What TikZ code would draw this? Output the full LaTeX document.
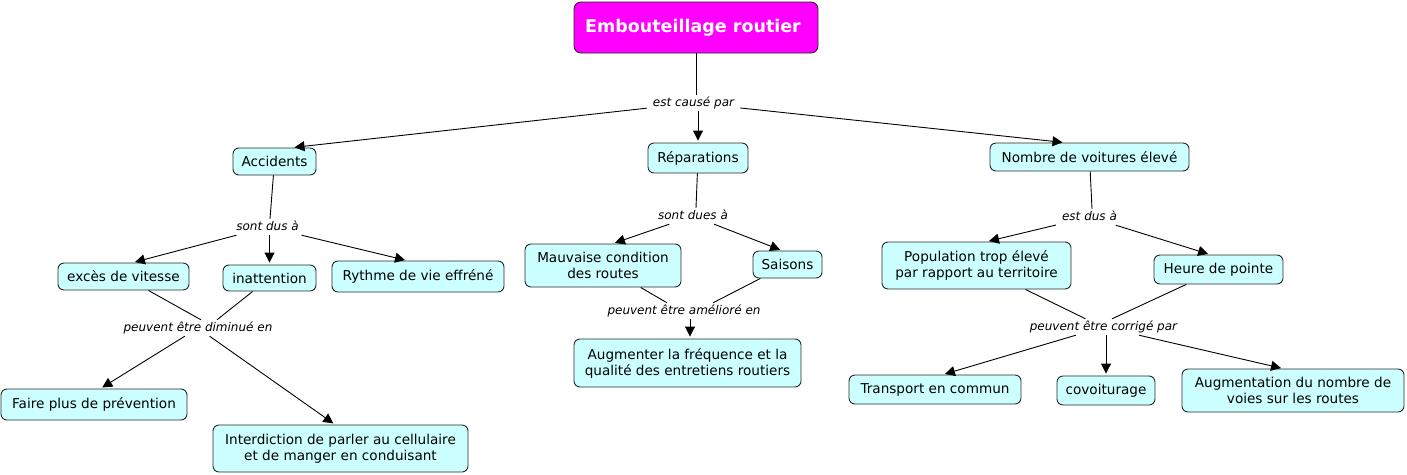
\documentclass[tikz,border=0pt]{standalone}
\usepackage{fontspec}
\setmainfont{DejaVu Sans}
\usetikzlibrary{arrows.meta}
\definecolor{cfill}{RGB}{204,255,255}
\definecolor{tfill}{RGB}{255,0,255}
\definecolor{cborder}{RGB}{40,40,40}
\tikzset{
  concept/.style={draw=cborder, line width=0.9pt, fill=cfill, rounded corners=6pt,
    font=\fontsize{13.6}{16}\selectfont, align=center, inner sep=0pt},
  titlebox/.style={draw=cborder, line width=0.9pt, fill=tfill, rounded corners=7pt,
    font=\fontsize{17.5}{20}\selectfont\bfseries, text=white, inner sep=0pt},
  lbl/.style={font=\fontsize{12}{14}\selectfont\itshape, inner xsep=6pt, inner ysep=2pt,
    text height=9pt, text depth=3pt},
  link/.style={line width=0.9pt, draw=black},
  arr/.style={line width=0.9pt, draw=black, -{Triangle[length=10pt,width=10pt]}, shorten >=2pt},
}
\begin{document}
\begin{tikzpicture}[x=1pt,y=-1pt]
\useasboundingbox (0,0) rectangle (1407,474);
% concepts
\node[titlebox, minimum width=244pt, minimum height=51pt] (title) at (696,27.5) {Embouteillage routier\hspace*{6pt}};
\node[concept, minimum width=83pt, minimum height=27pt] (acc) at (274.5,161.5) {Accidents};
\node[concept, minimum width=100pt, minimum height=30pt] (rep) at (698,158) {Réparations};
\node[concept, minimum width=199pt, minimum height=28pt] (nomb) at (1089.5,157) {Nombre de voitures élevé};
\node[concept, minimum width=131pt, minimum height=27pt] (exc) at (123.5,276.5) {excès de vitesse};
\node[concept, minimum width=93pt, minimum height=26pt] (inat) at (269.5,278) {inattention};
\node[concept, minimum width=172pt, minimum height=31pt] (ryth) at (418,276.5) {Rythme de vie effréné};
\node[concept, minimum width=186pt, minimum height=31pt] (faire) at (94,404.5) {Faire plus de prévention};
\node[concept, minimum width=255pt, minimum height=47pt] (inter) at (340.5,448.5) {Interdiction de parler au cellulaire\\ et de manger en conduisant};
\node[concept, minimum width=156pt, minimum height=43pt] (mauv) at (603,265.5) {Mauvaise condition\\des routes};
\node[concept, minimum width=69pt, minimum height=27pt] (sais) at (787.5,264.5) {Saisons};
\node[concept, minimum width=227pt, minimum height=48pt] (aug) at (687.5,363) {Augmenter la fréquence et la\\qualité des entretiens routiers};
\node[concept, minimum width=189pt, minimum height=47pt] (pop) at (976.5,265.5) {Population trop élevé\\ par rapport au territoire};
\node[concept, minimum width=129pt, minimum height=29pt] (heure) at (1218.5,269.5) {Heure de pointe};
\node[concept, minimum width=172pt, minimum height=29pt] (trans) at (935,389.5) {Transport en commun};
\node[concept, minimum width=98pt, minimum height=29pt] (covo) at (1106,390.5) {covoiturage};
\node[concept, minimum width=222pt, minimum height=43pt] (augm) at (1293,390.5) {Augmentation du nombre de\\voies sur les routes};
% linking phrases
\node[lbl] (cause) at (693.5,103) {est causé par};
\node[lbl] (dusa) at (267.5,227) {sont dus à};
\node[lbl] (dim) at (198,328) {peuvent être diminué en};
\node[lbl] (dues) at (693,216) {sont dues à};
\node[lbl] (amel) at (684,311) {peuvent être amélioré en};
\node[lbl] (estdus) at (1089.5,217) {est dus à};
\node[lbl] (corr) at (1103.5,327) {peuvent être corrigé par};
% concept -> phrase
\draw[link] (title) -- (title |- cause.north);
\draw[link] (acc) -- ([xshift=2.5pt]dusa.north);
\draw[link] (exc) -- ([xshift=3pt]dim.north);
\draw[link] (inat) -- ([xshift=19pt]dim.north);
\draw[link] (rep) -- ([xshift=3pt]dues.north);
\draw[link] (mauv) -- ([xshift=-17pt]amel.north);
\draw[link] (sais) -- ([xshift=29pt]amel.north);
\draw[link] (nomb) -- ([xshift=2.5pt]estdus.north);
\draw[link] (pop) -- ([xshift=-18pt]corr.north);
\draw[link] (heure) -- ([xshift=8.5pt]corr.north);
% phrase -> concept
\draw[arr] (cause) -- ([xshift=18pt]acc.north);
\draw[arr] (cause.south -| rep.north) -- (rep.north);
\draw[arr] (cause) -- ([xshift=-25pt]nomb.north);
\draw[arr] (dusa) -- ([xshift=9.5pt]exc.north);
\draw[arr] (dusa.south -| inat.north) -- (inat.north);
\draw[arr] (dusa) -- ([xshift=-11pt]ryth.north);
\draw[arr] (dim) -- ([xshift=6.5pt]faire.north);
\draw[arr] (dim) -- ([xshift=-5.5pt]inter.north);
\draw[arr] (dues) -- ([xshift=10pt]mauv.north);
\draw[arr] (dues) -- ([xshift=-5.5pt]sais.north);
\coordinate (augtop) at ([xshift=2.5pt]aug.north);
\draw[arr] (amel.south -| augtop) -- (augtop);
\draw[arr] (estdus) -- ([xshift=10.5pt]pop.north);
\draw[arr] (estdus) -- ([xshift=-8.5pt]heure.north);
\draw[arr] (corr) -- ([xshift=8pt]trans.north);
\draw[arr] (corr.south -| covo.north) -- (covo.north);
\draw[arr] (corr) -- ([xshift=-10pt]augm.north);
\end{tikzpicture}
\end{document}
